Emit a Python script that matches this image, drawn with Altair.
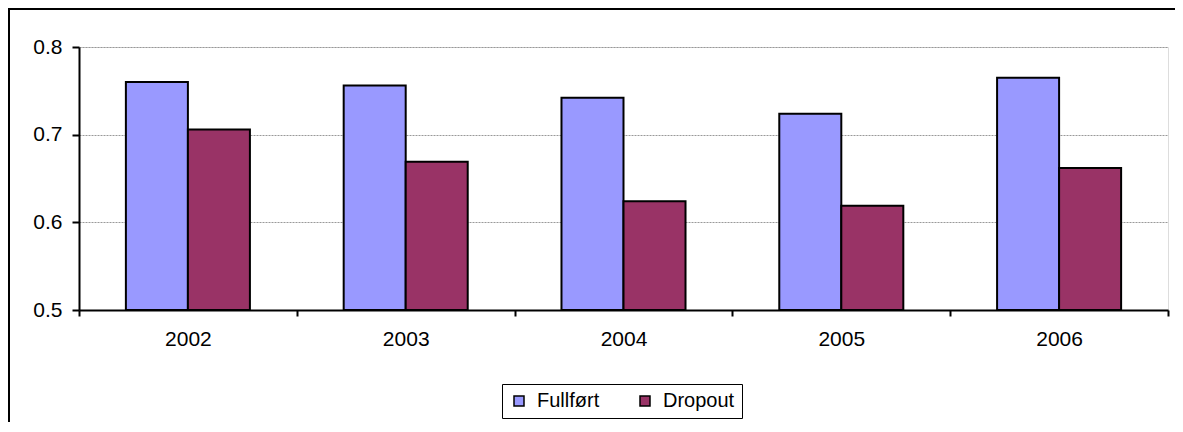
import altair as alt
import pandas as pd

years = ["2002", "2003", "2004", "2005", "2006"]
fullfort = [0.760, 0.756, 0.742, 0.724, 0.765]
dropout = [0.706, 0.669, 0.624, 0.619, 0.662]
series = ["Fullført", "Dropout"]
colors = ["#9999FF", "#993366"]

rows = []
for i, y in enumerate(years):
    rows.append({"year": y, "series": series[0], "value": fullfort[i]})
    rows.append({"year": y, "series": series[1], "value": dropout[i]})
df = pd.DataFrame(rows)

W, H = 1089, 263
PL, PT = 71, 39
FONT = "Liberation Sans"

bars = alt.Chart(df).mark_bar(stroke="black", strokeWidth=2).encode(
    x=alt.X("year:N", title=None,
            scale=alt.Scale(paddingInner=0, paddingOuter=0),
            axis=alt.Axis(labelAngle=0, labelFont=FONT, labelFontSize=21,
                          labelColor="black", domainColor="black", domainWidth=2,
                          tickColor="black", tickSize=6, tickWidth=2, tickBand="extent",
                          labelPadding=12, grid=False)),
    xOffset=alt.XOffset("series:N", sort=series,
                        scale=alt.Scale(paddingInner=0, paddingOuter=0.756)),
    y=alt.Y("value:Q", title=None,
            scale=alt.Scale(domain=[0.5, 0.8], zero=False, nice=False, clamp=True),
            axis=alt.Axis(values=[0.5, 0.6, 0.7, 0.8], format=".1f",
                          labelFont=FONT, labelFontSize=21, labelColor="black",
                          domainColor="black", domainWidth=2, tickColor="black",
                          tickSize=7, tickWidth=2, labelPadding=10,
                          grid=True, gridColor="#999999", gridDash=[2, 1], gridWidth=1)),
    color=alt.Color("series:N", sort=series,
                    scale=alt.Scale(domain=series, range=colors),
                    legend=alt.Legend(title=None, orient="none", legendX=423, legendY=337,
                                      direction="horizontal", columns=2, columnPadding=35,
                                      symbolType="square", symbolSize=100,
                                      symbolStrokeColor="black", symbolStrokeWidth=1.5,
                                      labelFont=FONT, labelFontSize=20, labelOffset=8,
                                      labelColor="black", strokeColor="black",
                                      padding=7, symbolOffset=0)),
)

frame_top = alt.Chart(df).mark_rule(color="black", strokeWidth=2).encode(
    x=alt.value(-PL), x2=alt.value(W + 20), y=alt.value(-PT + 1))
frame_left = alt.Chart(df).mark_rule(color="black", strokeWidth=2).encode(
    x=alt.value(-PL + 1), y=alt.value(-PT), y2=alt.value(H + 200))

chart = alt.layer(bars, frame_top, frame_left).properties(
    width=W, height=H,
    autosize=alt.AutoSizeParams(type="none"),
    padding={"left": PL, "top": PT, "right": 7, "bottom": 112},
).configure_view(stroke=None).configure(background="white")

chart.save("out.html", embed_options={"renderer": "svg", "actions": False})
